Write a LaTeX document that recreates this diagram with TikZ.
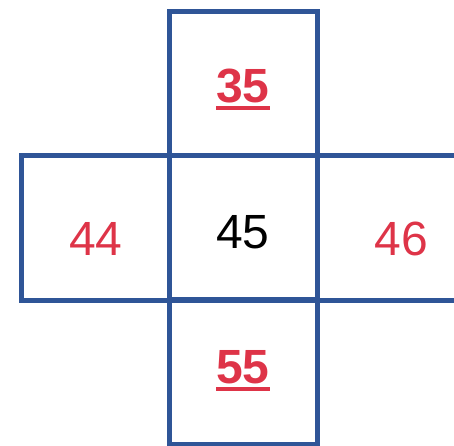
\documentclass[tikz,border=0pt]{standalone}
\usepackage{fontspec}
\setmainfont{Liberation Sans}
\definecolor{boxblue}{RGB}{47,85,151}
\definecolor{numred}{RGB}{222,52,72}
\newcommand\myul[1]{\setbox0\hbox{#1}\rlap{\rule[-7.5pt]{\wd0}{4pt}}\box0}
\begin{document}
\begin{tikzpicture}[x=1pt,y=1pt,
  cell/.style={draw=boxblue,line width=5pt,minimum width=147.5pt,minimum height=144.5pt,inner sep=0pt,outer sep=0pt},
  num/.style={anchor=base,inner sep=0pt,font=\fontsize{48}{48}\selectfont}]
\useasboundingbox (0,0) rectangle (454,445);
\clip (0,0) rectangle (454,445);
\node[cell] (top) at (243.25,361.5) {};
\node[cell] (left) at (95.25,217.25) {};
\node[cell] (right) at (391.25,217.25) {};
\node[cell] (bottom) at (243.25,73) {};
\node[cell] (center) at (243.25,217.25) {};
\node[num,text=numred] (t35) at (243,342) {\bfseries\myul{35}};
\node[num] (t45) at (243,197) {45};
\node[num,text=numred] (t44) at (96,190) {44};
\node[num,text=numred] (t46) at (401,190) {46};
\node[num,text=numred] (t55) at (243,62) {\bfseries\myul{55}};
\end{tikzpicture}
\end{document}
